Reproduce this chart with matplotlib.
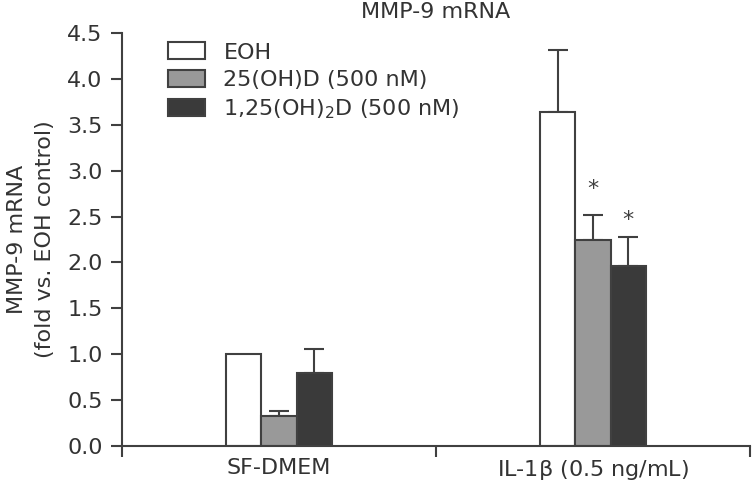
import numpy as np
import matplotlib
matplotlib.use("Agg")
import matplotlib.pyplot as plt

plt.rcParams["font.family"] = ["DejaVu Sans"]
plt.rcParams["mathtext.fontset"] = "dejavusans"
plt.rcParams["mathtext.default"] = "regular"

# data
groups = ["SF-DMEM", "IL-1$\\beta$ (0.5 ng/mL)"]
series = ["EOH", "25(OH)D (500 nM)", "1,25(OH)$_2$D (500 nM)"]
eoh = [1.0, 3.64]
d25 = [0.33, 2.24]
d125 = [0.80, 1.96]
eoh_err = [0.0, 0.67]
d25_err = [0.055, 0.28]
d125_err = [0.26, 0.32]
# significance marks: (group, series) -> height of the star
stars = {(1, 1): 2.80, (1, 2): 2.46}

colors = ["white", "#999999", "#3a3a3a"]
ink = "#404040"
txt = "#333333"
fs = 16

fig = plt.figure(figsize=(7.53, 4.87), dpi=100)
ax = fig.add_axes([122 / 753, 41 / 487, 628 / 753, 413 / 487])

x = np.arange(len(groups))
width = 0.1125
values = [eoh, d25, d125]
errors = [eoh_err, d25_err, d125_err]

for i, (vals, errs) in enumerate(zip(values, errors)):
    pos = x + (i - 1) * width
    ax.bar(pos, vals, width, color=colors[i], edgecolor=ink, linewidth=1.5,
           label=series[i], zorder=2)
    for p, v, e in zip(pos, vals, errs):
        if e > 0:
            ax.errorbar(p, v, yerr=[[0], [e]], fmt="none", ecolor=ink,
                        elinewidth=1.5, capsize=7, capthick=1.5, zorder=1)

for (g, i), h in stars.items():
    ax.text(x[g] + (i - 1) * width, h, "*", ha="center", va="center",
            fontsize=fs, color=ink)

ax.set_xlim(-0.5, 1.5)
ax.set_ylim(0, 4.5)
yt = np.arange(0, 4.51, 0.5)
ax.set_yticks(yt)
ax.set_yticklabels([f"{v:.1f}" for v in yt])
ax.set_xticks([-0.5, 0.5, 1.5])
ax.set_xticklabels([])
ax.set_xticks(x, minor=True)
ax.set_xticklabels(groups, minor=True)
ax.tick_params(axis="x", which="minor", length=0, pad=9, labelsize=fs,
               labelcolor=txt)
ax.tick_params(axis="x", which="major", length=8, width=1.5, color=ink)
ax.tick_params(axis="y", length=8, width=1.5, color=ink, labelsize=fs,
               labelcolor=txt, pad=6)

for side in ["top", "right"]:
    ax.spines[side].set_visible(False)
for side in ["left", "bottom"]:
    ax.spines[side].set_color(ink)
    ax.spines[side].set_linewidth(1.5)

ax.set_title("MMP-9 mRNA", fontsize=fs, color=txt, pad=10.5)
ax.set_ylabel("MMP-9 mRNA\n(fold vs. EOH control)", fontsize=fs,
              color=txt, labelpad=9, linespacing=1.5)

ax.legend(loc="upper left", bbox_to_anchor=(0.073, 0.977), frameon=False,
          fontsize=fs, handlelength=1.65, handleheight=0.8,
          labelspacing=0.32, handletextpad=0.85, borderpad=0,
          borderaxespad=0, labelcolor=txt)

fig.savefig("out.png", dpi=100)
